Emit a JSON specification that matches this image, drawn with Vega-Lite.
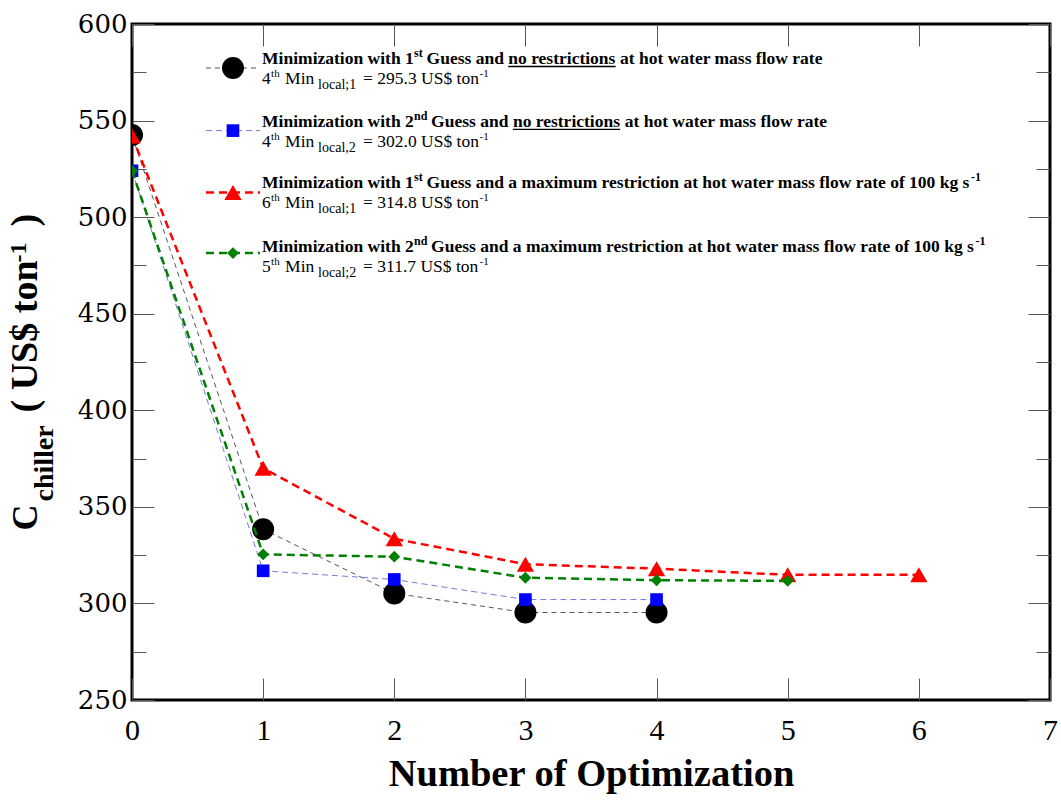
{
  "$schema": "https://vega.github.io/schema/vega-lite/v6.json",
  "width": 918,
  "height": 676,
  "autosize": {"type": "none"},
  "padding": {"left": 132, "top": 24, "right": 11, "bottom": 103},
  "background": "white",
  "config": {
    "view": {"stroke": "black", "strokeWidth": 3},
    "axis": {"grid": false, "domain": false}
  },
  "datasets": {
    "points": [
      {"s": "A", "n": 0, "c": 542.5}, {"s": "A", "n": 1, "c": 338.4}, {"s": "A", "n": 2, "c": 305.2}, {"s": "A", "n": 3, "c": 295.3}, {"s": "A", "n": 4, "c": 295.3},
      {"s": "B", "n": 0, "c": 524.0}, {"s": "B", "n": 1, "c": 316.9}, {"s": "B", "n": 2, "c": 312.4}, {"s": "B", "n": 3, "c": 302.0}, {"s": "B", "n": 4, "c": 302.0},
      {"s": "C", "n": 0, "c": 542.0}, {"s": "C", "n": 1, "c": 370.0}, {"s": "C", "n": 2, "c": 333.5}, {"s": "C", "n": 3, "c": 320.3}, {"s": "C", "n": 4, "c": 318.0}, {"s": "C", "n": 5, "c": 314.8}, {"s": "C", "n": 6, "c": 314.8},
      {"s": "D", "n": 0, "c": 524.0}, {"s": "D", "n": 1, "c": 325.4}, {"s": "D", "n": 2, "c": 324.2}, {"s": "D", "n": 3, "c": 313.3}, {"s": "D", "n": 4, "c": 312.0}, {"s": "D", "n": 5, "c": 311.7}
    ],
    "legend": [
      {"s": "A", "a": "Minimization with 1", "asup": "st", "b": "Guess and", "u": "no restrictions", "c": "at hot water mass flow rate", "k": "4", "ksup": "th", "m": "Min", "sub": "local;1", "v": "= 295.3 US$ ton", "vsup": "-1"},
      {"s": "B", "a": "Minimization with 2", "asup": "nd", "b": "Guess and", "u": "no restrictions", "c": "at hot water mass flow rate", "k": "4", "ksup": "th", "m": "Min", "sub": "local,2", "v": "= 302.0 US$ ton", "vsup": "-1"},
      {"s": "C", "a": "Minimization with 1", "asup": "st", "b": "Guess and a maximum restriction at hot water mass flow rate of 100 kg s", "bsup": "-1", "k": "6", "ksup": "th", "m": "Min", "sub": "local;1", "v": "= 314.8 US$ ton", "vsup": "-1"},
      {"s": "D", "a": "Minimization with 2", "asup": "nd", "b": "Guess and a maximum restriction at hot water mass flow rate of 100 kg s", "bsup": "-1", "k": "5", "ksup": "th", "m": "Min", "sub": "local;2", "v": "= 311.7 US$ ton", "vsup": "-1"}
    ]
  },
  "data": {"name": "points"},
  "resolve": {"axis": {"x": "independent", "y": "independent"}},
  "layer": [
    {
      "transform": [{"filter": "datum.s === 'A'"}],
      "mark": {"type": "line", "color": "#555555", "strokeWidth": 1, "strokeDash": [5, 4], "clip": true},
      "encoding": {
        "x": {"field": "n", "type": "quantitative", "scale": {"domain": [0, 7], "nice": false, "zero": false},
          "axis": {"orient": "bottom", "values": [0, 1, 2, 3, 4, 5, 6, 7], "ticks": false, "tickSize": 0, "domain": false, "grid": false, "labelFont": "Liberation Serif", "labelFontSize": 30, "labelColor": "black", "labelPadding": 15, "labelFlush": false, "labelOverlap": false, "format": "d",
            "title": "Number of Optimization", "titleFont": "Liberation Serif", "titleFontSize": 38.5, "titleFontWeight": "bold", "titleColor": "black", "titleBaseline": "alphabetic", "titleY": 85}},
        "y": {"field": "c", "type": "quantitative", "scale": {"domain": [250, 600], "nice": false, "zero": false},
          "axis": {"orient": "left", "values": [250, 300, 350, 400, 450, 500, 550, 600], "ticks": false, "tickSize": 0, "domain": false, "grid": false, "labelFont": "DejaVu Serif", "labelFontSize": 26, "labelColor": "black", "labelPadding": 5, "labelFlush": false, "labelOverlap": false, "format": "d",
            "title": "C", "titleFont": "Liberation Serif", "titleFontSize": 36, "titleFontWeight": "bold", "titleColor": "black", "titleAngle": 270, "titleAlign": "left", "titleBaseline": "alphabetic", "titleX": -96, "titleY": 506}}
      }
    },
    {
      "transform": [{"filter": "datum.s === 'A'"}],
      "mark": {"type": "point", "shape": "circle", "filled": true, "size": 484, "color": "black", "opacity": 1, "clip": true},
      "encoding": {
        "x": {"field": "n", "type": "quantitative", "scale": {"domain": [0, 7], "nice": false, "zero": false},
          "axis": {"orient": "bottom", "values": [0, 1, 2, 3, 4, 5, 6, 7], "labels": false, "ticks": true, "tickSize": -22, "tickColor": "#555555", "tickWidth": 1, "domain": false, "grid": false, "title": null}},
        "y": {"field": "c", "type": "quantitative", "scale": {"domain": [250, 600], "nice": false, "zero": false},
          "axis": {"orient": "left", "values": [250, 300, 350, 400, 450, 500, 550, 600], "labels": false, "ticks": true, "tickSize": -22, "tickColor": "#555555", "tickWidth": 1, "domain": false, "grid": false, "title": null}}
      }
    },
    {
      "transform": [{"filter": "datum.s === 'B'"}],
      "mark": {"type": "line", "color": "#7777dd", "strokeWidth": 1, "strokeDash": [6, 4], "clip": true},
      "encoding": {
        "x": {"field": "n", "type": "quantitative", "scale": {"domain": [0, 7], "nice": false, "zero": false},
          "axis": {"orient": "top", "values": [0, 1, 2, 3, 4, 5, 6, 7], "labels": false, "ticks": true, "tickSize": -22, "tickColor": "#555555", "tickWidth": 1, "domain": false, "grid": false, "title": null}},
        "y": {"field": "c", "type": "quantitative", "scale": {"domain": [250, 600], "nice": false, "zero": false},
          "axis": {"orient": "left", "values": [275, 325, 375, 425, 475, 525, 575], "labels": false, "ticks": true, "tickSize": -14, "tickColor": "#555555", "tickWidth": 1, "domain": false, "grid": false, "title": null}}
      }
    },
    {
      "transform": [{"filter": "datum.s === 'B'"}],
      "mark": {"type": "point", "shape": "square", "filled": true, "size": 160, "color": "#0000ff", "opacity": 1, "clip": true},
      "encoding": {
        "x": {"field": "n", "type": "quantitative", "scale": {"domain": [0, 7], "nice": false, "zero": false},
          "axis": {"orient": "bottom", "labels": false, "ticks": false, "domain": false, "grid": false,
            "title": ")", "titleFont": "Liberation Serif", "titleFontSize": 38, "titleFontWeight": "bold", "titleColor": "black", "titleAngle": 270, "titleAlign": "left", "titleBaseline": "alphabetic", "titleX": -96, "titleY": -474}},
        "y": {"field": "c", "type": "quantitative", "scale": {"domain": [250, 600], "nice": false, "zero": false},
          "axis": {"orient": "right", "values": [250, 300, 350, 400, 450, 500, 550, 600], "labels": false, "ticks": true, "tickSize": -22, "tickColor": "#555555", "tickWidth": 1, "domain": false, "grid": false, "title": null}}
      }
    },
    {
      "transform": [{"filter": "datum.s === 'C'"}],
      "mark": {"type": "line", "color": "#ff0000", "strokeWidth": 2.5, "strokeDash": [8, 5], "clip": true},
      "encoding": {
        "x": {"field": "n", "type": "quantitative", "scale": {"domain": [0, 7], "nice": false, "zero": false}, "axis": null},
        "y": {"field": "c", "type": "quantitative", "scale": {"domain": [250, 600], "nice": false, "zero": false},
          "axis": {"orient": "right", "values": [275, 325, 375, 425, 475, 525, 575], "labels": false, "ticks": true, "tickSize": -14, "tickColor": "#555555", "tickWidth": 1, "domain": false, "grid": false, "title": null}}
      }
    },
    {
      "transform": [{"filter": "datum.s === 'C'"}],
      "mark": {"type": "point", "shape": "triangle-up", "filled": true, "size": 300, "color": "#ff0000", "opacity": 1, "clip": true},
      "encoding": {
        "x": {"field": "n", "type": "quantitative", "scale": {"domain": [0, 7], "nice": false, "zero": false}, "axis": null},
        "y": {"field": "c", "type": "quantitative", "scale": {"domain": [250, 600], "nice": false, "zero": false},
          "axis": {"orient": "left", "labels": false, "ticks": false, "domain": false, "grid": false,
            "title": "chiller", "titleFont": "Liberation Serif", "titleFontSize": 28, "titleFontWeight": "bold", "titleColor": "black", "titleAngle": 270, "titleAlign": "left", "titleBaseline": "alphabetic", "titleX": -80, "titleY": 477}}
      }
    },
    {
      "transform": [{"filter": "datum.s === 'D'"}],
      "mark": {"type": "line", "color": "#008000", "strokeWidth": 2.5, "strokeDash": [8, 5], "clip": true},
      "encoding": {
        "x": {"field": "n", "type": "quantitative", "scale": {"domain": [0, 7], "nice": false, "zero": false}, "axis": null},
        "y": {"field": "c", "type": "quantitative", "scale": {"domain": [250, 600], "nice": false, "zero": false},
          "axis": {"orient": "left", "labels": false, "ticks": false, "domain": false, "grid": false,
            "title": "( US$ ton", "titleFont": "Liberation Serif", "titleFontSize": 38, "titleFontWeight": "bold", "titleColor": "black", "titleAngle": 270, "titleAlign": "left", "titleBaseline": "alphabetic", "titleX": -96, "titleY": 388}}
      }
    },
    {
      "transform": [{"filter": "datum.s === 'D'"}],
      "mark": {"type": "point", "shape": "diamond", "filled": true, "size": 140, "color": "#008000", "opacity": 1, "clip": true},
      "encoding": {
        "x": {"field": "n", "type": "quantitative", "scale": {"domain": [0, 7], "nice": false, "zero": false}, "axis": null},
        "y": {"field": "c", "type": "quantitative", "scale": {"domain": [250, 600], "nice": false, "zero": false},
          "axis": {"orient": "left", "labels": false, "ticks": false, "domain": false, "grid": false,
            "title": "-1", "titleFont": "Liberation Serif", "titleFontSize": 24, "titleFontWeight": "bold", "titleColor": "black", "titleAngle": 270, "titleAlign": "left", "titleBaseline": "alphabetic", "titleX": -107, "titleY": 238}}
      }
    },
    {
      "data": {"name": "legend"},
      "transform": [{"filter": "datum.s === 'A'"}],
      "encoding": {
        "x": {"datum": 0.992, "type": "quantitative", "scale": {"domain": [0, 7], "nice": false, "zero": false}, "axis": null},
        "y": {"datum": 579.3, "type": "quantitative", "scale": {"domain": [250, 600], "nice": false, "zero": false}, "axis": null}
      },
      "layer": [
        {"mark": {"type": "rule", "color": "#555555", "strokeWidth": 1, "strokeDash": [5, 4]},
          "encoding": {"x": {"datum": 0.564, "type": "quantitative", "scale": {"domain": [0, 7], "nice": false, "zero": false}, "axis": null}, "x2": {"datum": 0.976}, "y": {"datum": 577.2, "type": "quantitative", "scale": {"domain": [250, 600], "nice": false, "zero": false}, "axis": null}}},
        {"mark": {"type": "point", "shape": "circle", "filled": true, "size": 484, "color": "black", "opacity": 1},
          "encoding": {"x": {"datum": 0.770, "type": "quantitative", "scale": {"domain": [0, 7], "nice": false, "zero": false}, "axis": null}, "y": {"datum": 577.2, "type": "quantitative", "scale": {"domain": [250, 600], "nice": false, "zero": false}, "axis": null}}},
        {"mark": {"type": "rule", "color": "black", "strokeWidth": 1.3},
          "encoding": {"x": {"datum": 2.869, "type": "quantitative", "scale": {"domain": [0, 7], "nice": false, "zero": false}, "axis": null}, "x2": {"datum": 3.688}, "y": {"datum": 578.0, "type": "quantitative", "scale": {"domain": [250, 600], "nice": false, "zero": false}, "axis": null}}},
        {"mark": {"type": "text", "font": "Liberation Serif", "fontWeight": "bold", "fontSize": 17.5, "align": "left", "baseline": "alphabetic", "color": "black", "dx": 0}, "encoding": {"text": {"field": "a"}}},
        {"mark": {"type": "text", "font": "Liberation Serif", "fontWeight": "bold", "fontSize": 12, "align": "left", "baseline": "alphabetic", "color": "black", "dx": 152, "dy": -7}, "encoding": {"text": {"field": "asup"}}},
        {"mark": {"type": "text", "font": "Liberation Serif", "fontWeight": "bold", "fontSize": 17.5, "align": "left", "baseline": "alphabetic", "color": "black", "dx": 164.5}, "encoding": {"text": {"field": "b"}}},
        {"mark": {"type": "text", "font": "Liberation Serif", "fontWeight": "bold", "fontSize": 17.5, "align": "left", "baseline": "alphabetic", "color": "black", "dx": 246.2}, "encoding": {"text": {"field": "u"}}},
        {"mark": {"type": "text", "font": "Liberation Serif", "fontWeight": "bold", "fontSize": 17.5, "align": "left", "baseline": "alphabetic", "color": "black", "dx": 358}, "encoding": {"text": {"field": "c"}}},
        {"mark": {"type": "text", "font": "Liberation Serif", "fontSize": 17.5, "align": "left", "baseline": "alphabetic", "color": "black", "dx": 0, "dy": 20}, "encoding": {"text": {"field": "k"}}},
        {"mark": {"type": "text", "font": "Liberation Serif", "fontSize": 11, "align": "left", "baseline": "alphabetic", "color": "black", "dx": 9, "dy": 13}, "encoding": {"text": {"field": "ksup"}}},
        {"mark": {"type": "text", "font": "Liberation Serif", "fontSize": 17.5, "align": "left", "baseline": "alphabetic", "color": "black", "dx": 23, "dy": 20}, "encoding": {"text": {"field": "m"}}},
        {"mark": {"type": "text", "font": "Liberation Serif", "fontSize": 14, "align": "left", "baseline": "alphabetic", "color": "black", "dx": 56, "dy": 25}, "encoding": {"text": {"field": "sub"}}},
        {"mark": {"type": "text", "font": "Liberation Serif", "fontSize": 17.5, "align": "left", "baseline": "alphabetic", "color": "black", "dx": 101, "dy": 20}, "encoding": {"text": {"field": "v"}}},
        {"mark": {"type": "text", "font": "Liberation Serif", "fontSize": 11, "align": "left", "baseline": "alphabetic", "color": "black", "dx": 217.5, "dy": 13}, "encoding": {"text": {"field": "vsup"}}}
      ]
    },
    {
      "data": {"name": "legend"},
      "transform": [{"filter": "datum.s === 'B'"}],
      "encoding": {
        "x": {"datum": 0.992, "type": "quantitative", "scale": {"domain": [0, 7], "nice": false, "zero": false}, "axis": null},
        "y": {"datum": 546.7, "type": "quantitative", "scale": {"domain": [250, 600], "nice": false, "zero": false}, "axis": null}
      },
      "layer": [
        {"mark": {"type": "rule", "color": "#7777dd", "strokeWidth": 1, "strokeDash": [6, 4]},
          "encoding": {"x": {"datum": 0.564, "type": "quantitative", "scale": {"domain": [0, 7], "nice": false, "zero": false}, "axis": null}, "x2": {"datum": 0.976}, "y": {"datum": 544.8, "type": "quantitative", "scale": {"domain": [250, 600], "nice": false, "zero": false}, "axis": null}}},
        {"mark": {"type": "point", "shape": "square", "filled": true, "size": 160, "color": "#0000ff", "opacity": 1},
          "encoding": {"x": {"datum": 0.770, "type": "quantitative", "scale": {"domain": [0, 7], "nice": false, "zero": false}, "axis": null}, "y": {"datum": 544.8, "type": "quantitative", "scale": {"domain": [250, 600], "nice": false, "zero": false}, "axis": null}}},
        {"mark": {"type": "rule", "color": "black", "strokeWidth": 1.3},
          "encoding": {"x": {"datum": 2.904, "type": "quantitative", "scale": {"domain": [0, 7], "nice": false, "zero": false}, "axis": null}, "x2": {"datum": 3.723}, "y": {"datum": 545.4, "type": "quantitative", "scale": {"domain": [250, 600], "nice": false, "zero": false}, "axis": null}}},
        {"mark": {"type": "text", "font": "Liberation Serif", "fontWeight": "bold", "fontSize": 17.5, "align": "left", "baseline": "alphabetic", "color": "black", "dx": 0}, "encoding": {"text": {"field": "a"}}},
        {"mark": {"type": "text", "font": "Liberation Serif", "fontWeight": "bold", "fontSize": 12, "align": "left", "baseline": "alphabetic", "color": "black", "dx": 152, "dy": -7}, "encoding": {"text": {"field": "asup"}}},
        {"mark": {"type": "text", "font": "Liberation Serif", "fontWeight": "bold", "fontSize": 17.5, "align": "left", "baseline": "alphabetic", "color": "black", "dx": 169}, "encoding": {"text": {"field": "b"}}},
        {"mark": {"type": "text", "font": "Liberation Serif", "fontWeight": "bold", "fontSize": 17.5, "align": "left", "baseline": "alphabetic", "color": "black", "dx": 250.8}, "encoding": {"text": {"field": "u"}}},
        {"mark": {"type": "text", "font": "Liberation Serif", "fontWeight": "bold", "fontSize": 17.5, "align": "left", "baseline": "alphabetic", "color": "black", "dx": 362.6}, "encoding": {"text": {"field": "c"}}},
        {"mark": {"type": "text", "font": "Liberation Serif", "fontSize": 17.5, "align": "left", "baseline": "alphabetic", "color": "black", "dx": 0, "dy": 20}, "encoding": {"text": {"field": "k"}}},
        {"mark": {"type": "text", "font": "Liberation Serif", "fontSize": 11, "align": "left", "baseline": "alphabetic", "color": "black", "dx": 9, "dy": 13}, "encoding": {"text": {"field": "ksup"}}},
        {"mark": {"type": "text", "font": "Liberation Serif", "fontSize": 17.5, "align": "left", "baseline": "alphabetic", "color": "black", "dx": 23, "dy": 20}, "encoding": {"text": {"field": "m"}}},
        {"mark": {"type": "text", "font": "Liberation Serif", "fontSize": 14, "align": "left", "baseline": "alphabetic", "color": "black", "dx": 56, "dy": 25}, "encoding": {"text": {"field": "sub"}}},
        {"mark": {"type": "text", "font": "Liberation Serif", "fontSize": 17.5, "align": "left", "baseline": "alphabetic", "color": "black", "dx": 101, "dy": 20}, "encoding": {"text": {"field": "v"}}},
        {"mark": {"type": "text", "font": "Liberation Serif", "fontSize": 11, "align": "left", "baseline": "alphabetic", "color": "black", "dx": 217.5, "dy": 13}, "encoding": {"text": {"field": "vsup"}}}
      ]
    },
    {
      "data": {"name": "legend"},
      "transform": [{"filter": "datum.s === 'C'"}],
      "encoding": {
        "x": {"datum": 0.992, "type": "quantitative", "scale": {"domain": [0, 7], "nice": false, "zero": false}, "axis": null},
        "y": {"datum": 515.1, "type": "quantitative", "scale": {"domain": [250, 600], "nice": false, "zero": false}, "axis": null}
      },
      "layer": [
        {"mark": {"type": "rule", "color": "#ff0000", "strokeWidth": 2.5, "strokeDash": [8, 5]},
          "encoding": {"x": {"datum": 0.564, "type": "quantitative", "scale": {"domain": [0, 7], "nice": false, "zero": false}, "axis": null}, "x2": {"datum": 0.976}, "y": {"datum": 512.8, "type": "quantitative", "scale": {"domain": [250, 600], "nice": false, "zero": false}, "axis": null}}},
        {"mark": {"type": "point", "shape": "triangle-up", "filled": true, "size": 300, "color": "#ff0000", "opacity": 1},
          "encoding": {"x": {"datum": 0.770, "type": "quantitative", "scale": {"domain": [0, 7], "nice": false, "zero": false}, "axis": null}, "y": {"datum": 512.8, "type": "quantitative", "scale": {"domain": [250, 600], "nice": false, "zero": false}, "axis": null}}},
        {"mark": {"type": "text", "font": "Liberation Serif", "fontWeight": "bold", "fontSize": 17.5, "align": "left", "baseline": "alphabetic", "color": "black", "dx": 0}, "encoding": {"text": {"field": "a"}}},
        {"mark": {"type": "text", "font": "Liberation Serif", "fontWeight": "bold", "fontSize": 12, "align": "left", "baseline": "alphabetic", "color": "black", "dx": 152, "dy": -7}, "encoding": {"text": {"field": "asup"}}},
        {"mark": {"type": "text", "font": "Liberation Serif", "fontWeight": "bold", "fontSize": 17.5, "align": "left", "baseline": "alphabetic", "color": "black", "dx": 164.5}, "encoding": {"text": {"field": "b"}}},
        {"mark": {"type": "text", "font": "Liberation Serif", "fontWeight": "bold", "fontSize": 12, "align": "left", "baseline": "alphabetic", "color": "black", "dx": 709, "dy": -7}, "encoding": {"text": {"field": "bsup"}}},
        {"mark": {"type": "text", "font": "Liberation Serif", "fontSize": 17.5, "align": "left", "baseline": "alphabetic", "color": "black", "dx": 0, "dy": 20}, "encoding": {"text": {"field": "k"}}},
        {"mark": {"type": "text", "font": "Liberation Serif", "fontSize": 11, "align": "left", "baseline": "alphabetic", "color": "black", "dx": 9, "dy": 13}, "encoding": {"text": {"field": "ksup"}}},
        {"mark": {"type": "text", "font": "Liberation Serif", "fontSize": 17.5, "align": "left", "baseline": "alphabetic", "color": "black", "dx": 23, "dy": 20}, "encoding": {"text": {"field": "m"}}},
        {"mark": {"type": "text", "font": "Liberation Serif", "fontSize": 14, "align": "left", "baseline": "alphabetic", "color": "black", "dx": 56, "dy": 25}, "encoding": {"text": {"field": "sub"}}},
        {"mark": {"type": "text", "font": "Liberation Serif", "fontSize": 17.5, "align": "left", "baseline": "alphabetic", "color": "black", "dx": 101, "dy": 20}, "encoding": {"text": {"field": "v"}}},
        {"mark": {"type": "text", "font": "Liberation Serif", "fontSize": 11, "align": "left", "baseline": "alphabetic", "color": "black", "dx": 217.5, "dy": 13}, "encoding": {"text": {"field": "vsup"}}}
      ]
    },
    {
      "data": {"name": "legend"},
      "transform": [{"filter": "datum.s === 'D'"}],
      "encoding": {
        "x": {"datum": 0.992, "type": "quantitative", "scale": {"domain": [0, 7], "nice": false, "zero": false}, "axis": null},
        "y": {"datum": 482.0, "type": "quantitative", "scale": {"domain": [250, 600], "nice": false, "zero": false}, "axis": null}
      },
      "layer": [
        {"mark": {"type": "rule", "color": "#008000", "strokeWidth": 2.5, "strokeDash": [8, 5]},
          "encoding": {"x": {"datum": 0.564, "type": "quantitative", "scale": {"domain": [0, 7], "nice": false, "zero": false}, "axis": null}, "x2": {"datum": 0.976}, "y": {"datum": 481.4, "type": "quantitative", "scale": {"domain": [250, 600], "nice": false, "zero": false}, "axis": null}}},
        {"mark": {"type": "point", "shape": "diamond", "filled": true, "size": 140, "color": "#008000", "opacity": 1},
          "encoding": {"x": {"datum": 0.770, "type": "quantitative", "scale": {"domain": [0, 7], "nice": false, "zero": false}, "axis": null}, "y": {"datum": 481.4, "type": "quantitative", "scale": {"domain": [250, 600], "nice": false, "zero": false}, "axis": null}}},
        {"mark": {"type": "text", "font": "Liberation Serif", "fontWeight": "bold", "fontSize": 17.5, "align": "left", "baseline": "alphabetic", "color": "black", "dx": 0}, "encoding": {"text": {"field": "a"}}},
        {"mark": {"type": "text", "font": "Liberation Serif", "fontWeight": "bold", "fontSize": 12, "align": "left", "baseline": "alphabetic", "color": "black", "dx": 152, "dy": -7}, "encoding": {"text": {"field": "asup"}}},
        {"mark": {"type": "text", "font": "Liberation Serif", "fontWeight": "bold", "fontSize": 17.5, "align": "left", "baseline": "alphabetic", "color": "black", "dx": 169}, "encoding": {"text": {"field": "b"}}},
        {"mark": {"type": "text", "font": "Liberation Serif", "fontWeight": "bold", "fontSize": 12, "align": "left", "baseline": "alphabetic", "color": "black", "dx": 713.5, "dy": -7}, "encoding": {"text": {"field": "bsup"}}},
        {"mark": {"type": "text", "font": "Liberation Serif", "fontSize": 17.5, "align": "left", "baseline": "alphabetic", "color": "black", "dx": 0, "dy": 20}, "encoding": {"text": {"field": "k"}}},
        {"mark": {"type": "text", "font": "Liberation Serif", "fontSize": 11, "align": "left", "baseline": "alphabetic", "color": "black", "dx": 9, "dy": 13}, "encoding": {"text": {"field": "ksup"}}},
        {"mark": {"type": "text", "font": "Liberation Serif", "fontSize": 17.5, "align": "left", "baseline": "alphabetic", "color": "black", "dx": 23, "dy": 20}, "encoding": {"text": {"field": "m"}}},
        {"mark": {"type": "text", "font": "Liberation Serif", "fontSize": 14, "align": "left", "baseline": "alphabetic", "color": "black", "dx": 56, "dy": 25}, "encoding": {"text": {"field": "sub"}}},
        {"mark": {"type": "text", "font": "Liberation Serif", "fontSize": 17.5, "align": "left", "baseline": "alphabetic", "color": "black", "dx": 101, "dy": 20}, "encoding": {"text": {"field": "v"}}},
        {"mark": {"type": "text", "font": "Liberation Serif", "fontSize": 11, "align": "left", "baseline": "alphabetic", "color": "black", "dx": 217.5, "dy": 13}, "encoding": {"text": {"field": "vsup"}}}
      ]
    }
  ]
}
